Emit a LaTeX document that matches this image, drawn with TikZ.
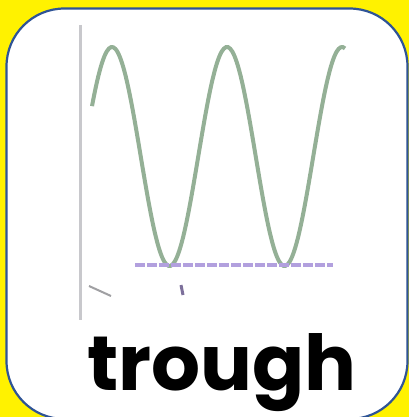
\documentclass[tikz,border=0pt]{standalone}
\usepackage{fontspec}
\setmainfont{Poppins}
\usepackage{xcolor}
\definecolor{cardblue}{RGB}{47,84,150}
\definecolor{wavegreen}{RGB}{148,176,150}
\definecolor{troughpurple}{RGB}{178,160,222}
\definecolor{axisgray}{RGB}{200,200,204}

\begin{document}
\begin{tikzpicture}[x=1pt,y=-1pt]
\def\W{409}
\def\H{417}
\def\midy{156.5}
\def\amp{109.5}
\def\per{115}

\useasboundingbox (0,0) rectangle (\W,\H);
\fill[yellow] (0,0) rectangle (\W,\H);
\begin{scope}
\clip (0,0) rectangle (\W,\H);
\draw[cardblue, fill=white, line width=2.2pt, rounded corners=58pt] (6.5,8.5) rectangle (407.5,419);
\end{scope}

%axis
\draw[axisgray, line width=3pt] (80,25) -- (80,320);

%wave
\draw[wavegreen, line width=4pt, smooth, samples=120, domain=92:345]
  plot (\x,{\midy-\amp*cos((\x-112)/\per*360)});

%trough line
\draw[troughpurple, line width=3.5pt, dash pattern=on 10pt off 2pt] (135,265) -- (333,265);

\draw[axisgray!80!black, line width=2pt] (89,286) -- (111,296);
\draw[troughpurple!70!black, line width=3pt] (181,285) -- (183,295);

\node[font=\bfseries\fontsize{77}{77}\selectfont, anchor=base] (label) at (222,390) {trough};
\end{tikzpicture}
\end{document}
